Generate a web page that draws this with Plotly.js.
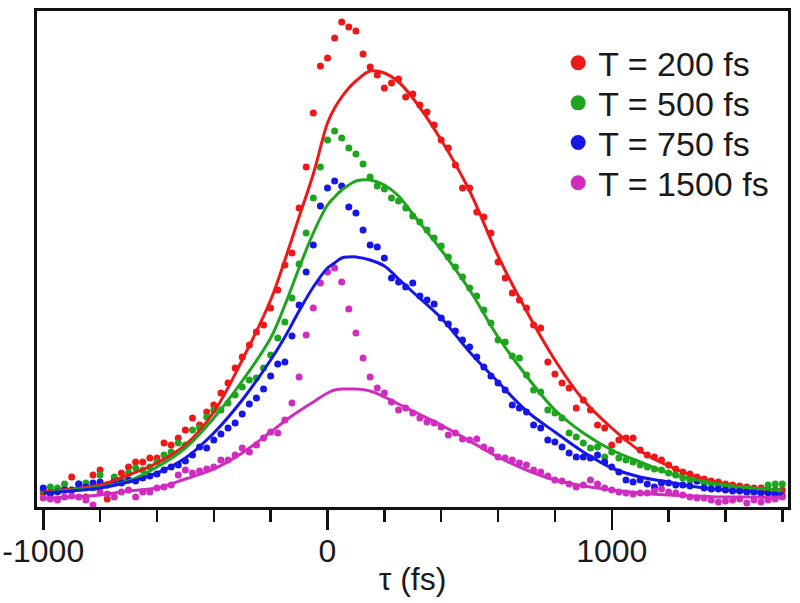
<!DOCTYPE html>
<html>
<head>
<meta charset="utf-8">
<script src="https://cdn.plot.ly/plotly-3.0.1.min.js"></script>
<style>html,body{margin:0;padding:0;background:#fff;}#chart{width:800px;height:603px;}</style>
</head>
<body>
<div id="chart"></div>
<script>
// Delay grid of the measured points (fs)
var tau = [-1000,-975,-950,-925,-900,-875,-850,-825,-800,-775,-750,-725,-700,-675,-650,-625,-600,-575,-550,-525,-500,-475,-450,-425,-400,-375,-350,-325,-300,-275,-250,-225,-200,-175,-150,-125,-100,-75,-50,-25,0,25,50,75,100,125,150,175,200,225,250,275,300,325,350,375,400,425,450,475,500,525,550,575,600,625,650,675,700,725,750,775,800,825,850,875,900,925,950,975,1000,1025,1050,1075,1100,1125,1150,1175,1200,1225,1250,1275,1300,1325,1350,1375,1400,1425,1450,1475,1500,1525,1550,1575,1600];

// Measured signal (arbitrary units)
var red200 = [14,13,16,18,30,22,10,32,37,8, 28,34,40,45,45,49,49,64,62,69, 77,89,82,95,102,114,124,139,150,162, 175,182,199,217,242,254,299,340,394,441, 449,469,485,480,476,453,440,432,419,424, 428,410,413,402,395,382,367,359,342,319, 319,295,290,274,245,229,214,207,199,182, 179,145,133,124,119,99,107,97,82,79, 62,67,69,69,57,52,50,47,42,38, 35,33,30,28,26,25,23,22,21,20, 19,19,18,17,17];
var green500 = [17,20,19,23,17,23,24,19,32,22, 30,27,34,39,37,40,45,52,55,64, 62,77,79,90,97,97,104,112,120,127, 129,139,152,169,185,209,243,274,309,340, 367,376,369,359,353,343,330,321,318,309, 306,299,291,285,277,269,261,250,240,230, 219,211,197,184,167,165,151,149,132,117, 115,97,94,89,74,70,64,59,60,50, 55,49,47,45,42,40,38,37,34,32, 29,27,26,24,23,22,21,20,18,18, 17,17,22,23,23];
var blue750 = [19,14,15,17,17,23,20,24,25,22, 25,24,27,26,29,31,33,37,40,42, 46,52,60,59,67,73,79,84,93,103, 109,118,131,143,145,171,202,235,262,301, 319,326,321,300,294,277,262,260,249,229, 225,220,224,211,207,203,189,183,176,167, 160,150,140,131,124,117,102,99,95,82, 79,67,65,60,54,50,50,49,52,45, 40,35,27,25,27,23,20,24,24,22, 22,21,26,19,18,18,17,16,16,15, 15,14,14,12,11];
var magenta1500 = [9,8,7,10,11,10,7,2,15,13, 10,15,17,10,15,15,19,20,22,32, 37,34,36,38,40,47,47,52,59,55, 62,69,75,74,87,104,130,172,199,224, 235,239,225,198,174,149,130,119,114,105, 97,99,94,89,85,84,80,72,74,68, 67,68,60,57,50,49,47,44,42,37, 35,31,27,26,23,20,22,27,23,19, 17,15,14,13,14,14,16,18,15,14, 12,10,9,9,7,5,6,7,8,4, 7,5,7,8,10];

// Fitted curves
var fitTau = [-1000,-900,-800,-700,-600,-500,-400,-300,-200,-150,-100,-50,0,25,50,75,100,150,200,250,300,400,500,600,700,800,900,1000,1100,1200,1300,1400,1500,1600];
var redFit = [15,18,22,32,44,62,95,147,207,247,290,333,384,399,410,419,426,436,434,425,409,367,316,251,196,147,107,79,56,41,30,23,19,17];
var greenFit = [14,17,20,26,40,59,89,126,169,202,239,274,302,310,317,322,326,327,322,311,293,257,217,170,131,97,74,57,45,34,27,22,19,17];
var blueFit = [14,16,19,25,34,49,74,107,147,170,196,220,239,244,249,250,250,247,241,228,215,189,155,125,96,75,55,39,30,25,20,17,15,13];
var magentaFit = [9,10,12,16,19,28,38,54,75,86,96,105,114,117,118,118,118,116,110,103,96,82,66,50,37,27,21,17,14,12,11,10,10,9];

// Axis tick labels
var tickVals = [-1000, 0, 1000];
var tickText = ['-1000', '0', '1000'];

var seriesNames = ['T = 200 fs','T = 500 fs','T = 750 fs','T = 1500 fs'];
var colors = ['#ee1818','#1ea51e','#1616e8','#d02cbf'];
var dotData = [red200, green500, blue750, magenta1500];
var fitData = [redFit, greenFit, blueFit, magentaFit];
var legendIds = ['legend','legend2','legend3','legend4'];

var traces = [];
for (var i = 0; i < 4; i++) {
  traces.push({x: tau, y: dotData[i], type: 'scatter', mode: 'markers',
    marker: {color: colors[i], size: 7}, showlegend: false, hoverinfo: 'skip'});
}
for (var i = 0; i < 4; i++) {
  traces.push({x: fitTau, y: fitData[i], type: 'scatter', mode: 'lines',
    line: {color: colors[i], width: 3, shape: 'spline', smoothing: 1}, showlegend: false, hoverinfo: 'skip'});
}
for (var i = 0; i < 4; i++) {
  traces.push({x: [null], y: [null], type: 'scatter', mode: 'markers', name: seriesNames[i],
    marker: {color: colors[i], size: 15}, showlegend: true, legend: legendIds[i]});
}

var font = 'Liberation Sans, Arial, Helvetica, sans-serif';
var legendRowsY = [0.895, 0.814, 0.734, 0.653];
var layout = {
  width: 800, height: 603,
  margin: {l: 37, r: 12, t: 11, b: 96, pad: 0},
  paper_bgcolor: '#ffffff', plot_bgcolor: '#ffffff',
  font: {family: font, size: 32, color: '#1a1a1a'},
  showlegend: true,
  xaxis: {
    range: [-1022, 1620], showline: true, mirror: true, linecolor: '#111', linewidth: 3,
    ticks: 'outside', ticklen: 20, tickwidth: 2.5, tickcolor: '#111',
    tickmode: 'array', tickvals: tickVals, ticktext: tickText,
    ticklabeloverflow: 'allow', ticklabelstandoff: -6,
    tickfont: {family: font, size: 32, color: '#1a1a1a'},
    minor: {tickmode: 'linear', dtick: 200, tick0: 0, ticks: 'outside', ticklen: 12, tickwidth: 2.5, tickcolor: '#111', showgrid: false},
    showgrid: false, zeroline: false,
    title: {text: 'τ (fs)', font: {family: font, size: 32, color: '#1a1a1a'}, standoff: 0}
  },
  yaxis: {
    range: [0, 496], showline: true, mirror: true, linecolor: '#111', linewidth: 3,
    ticks: '', showticklabels: false, showgrid: false, zeroline: false
  }
};
for (var i = 0; i < 4; i++) {
  layout[legendIds[i]] = {x: 0.694, y: legendRowsY[i], xanchor: 'left', yanchor: 'middle',
    bgcolor: 'rgba(0,0,0,0)', font: {family: font, size: 34, color: '#1a1a1a'}};
}
Plotly.newPlot('chart', traces, layout, {staticPlot: true, displayModeBar: false});
</script>
</body>
</html>
